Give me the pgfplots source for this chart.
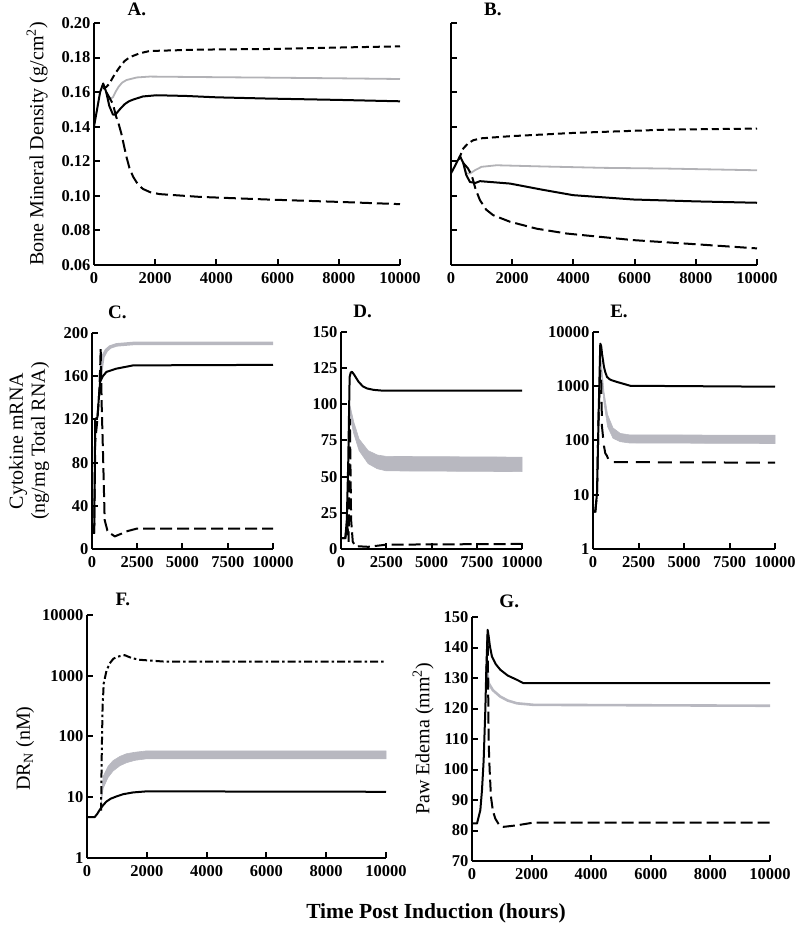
\documentclass[border=0pt]{standalone}
\usepackage{fontspec}
\setmainfont{Liberation Serif}
\usepackage{pgfplots}
\pgfplotsset{compat=1.18}
\definecolor{bandgray}{RGB}{184,184,192}
\definecolor{linegray}{RGB}{178,178,182}
\pgfplotsset{
  myax/.style={
    scale only axis,
    axis x line=bottom, axis y line=left,
    axis line style={-, line width=2pt},
    tick align=inside, major tick length=6pt,
    every tick/.style={black, line width=2pt},
    tick label style={font=\fontsize{16.5}{18}\selectfont\bfseries},
    xticklabel style={yshift=-4pt},
    xmin=0, xmax=10000,
    scaled x ticks=false, scaled y ticks=false,
    /pgf/number format/assume math mode=true,
    title style={font=\fontsize{19}{20}\selectfont\bfseries, anchor=center, inner sep=0pt},
    ylabel style={font=\fontsize{20}{22}\selectfont, anchor=center},
    clip=false,
  },
  tk2/.style={xtick={0,2000,4000,6000,8000,10000}, xticklabels={0,2000,4000,6000,8000,10000}},
  tk25/.style={xtick={0,2500,5000,7500,10000}, xticklabels={0,2500,5000,7500,10000}},
  blk/.style={black, line width=2pt, line join=round},
  sdash/.style={black, line width=2pt, dash pattern=on 7pt off 4pt},
  ldash/.style={black, line width=2pt, dash pattern=on 12pt off 5pt},
  ddot/.style={black, line width=2pt, dash pattern=on 8pt off 3pt on 2.5pt off 3pt},
  gline/.style={linegray, line width=1.8pt, line join=round},
}
\begin{document}
\begin{tikzpicture}
\useasboundingbox (0,0) rectangle (800pt,930pt);

% ---------- A ----------
\begin{axis}[myax, tk2, at={(94pt,665pt)}, anchor=south west, width=306pt, height=242pt,
  ymin=0.06, ymax=0.20, ytick={0.06,0.08,0.10,0.12,0.14,0.16,0.18,0.20},
  yticklabels={0.06,0.08,0.10,0.12,0.14,0.16,0.18,0.20},
  title={A.}, title style={at={(axis description cs:0.14,1)}, yshift=8pt},
  ylabel={Bone Mineral Density (g/cm\textsuperscript{2})},
  ylabel style={at={(axis description cs:-0.186,0.5)}}]
\addplot[gline] coordinates {(400,0.160)(500,0.156)(620,0.157)(700,0.160)(800,0.163)(920,0.1655)(1060,0.167)(1400,0.1685)(1820,0.169)(3000,0.1688)(5640,0.1684)(8000,0.168)(10000,0.1676)};
\addplot[blk] coordinates {(0,0.140)(100,0.150)(200,0.160)(300,0.165)(400,0.160)(500,0.152)(620,0.147)(700,0.147)(840,0.150)(1000,0.153)(1140,0.1547)(1280,0.1557)(1600,0.1575)(2040,0.1582)(3000,0.1578)(4000,0.157)(5640,0.1563)(8000,0.1555)(10000,0.1547)};
\addplot[sdash] coordinates {(300,0.162)(400,0.163)(510,0.165)(600,0.168)(700,0.171)(840,0.1745)(1000,0.178)(1150,0.180)(1280,0.181)(1500,0.1825)(1820,0.1838)(3460,0.1846)(5970,0.185)(8000,0.1858)(10000,0.1865)};
\addplot[ldash] coordinates {(400,0.160)(500,0.157)(620,0.153)(720,0.146)(800,0.142)(894,0.136)(980,0.129)(1060,0.1226)(1160,0.116)(1280,0.111)(1440,0.1065)(1600,0.104)(1850,0.102)(2150,0.101)(3460,0.0994)(5640,0.0979)(8000,0.0965)(10000,0.0952)};
\end{axis}

% ---------- B ----------
\begin{axis}[myax, tk2, at={(451pt,665pt)}, anchor=south west, width=306pt, height=242pt,
  ymin=0.06, ymax=0.20, ytick={0.06,0.08,0.10,0.12,0.14,0.16,0.18,0.20},
  yticklabels={}, 
  title={B.}, title style={at={(axis description cs:0.137,1)}, yshift=8pt}]
\addplot[gline] coordinates {(400,0.119)(500,0.113)(620,0.1129)(800,0.1150)(1000,0.1168)(1490,0.1177)(3000,0.1170)(5000,0.1162)(7000,0.1158)(10000,0.1148)};
\addplot[blk] coordinates {(0,0.113)(150,0.118)(294,0.123)(400,0.119)(500,0.112)(620,0.108)(800,0.1075)(947,0.1085)(1930,0.1071)(3000,0.1035)(3990,0.1004)(5950,0.0979)(8000,0.0968)(10000,0.096)};
\addplot[sdash] coordinates {(250,0.121)(400,0.1274)(550,0.1302)(730,0.1322)(1000,0.1333)(1930,0.1345)(3990,0.1364)(7040,0.1383)(10000,0.1389)};
\addplot[ldash] coordinates {(400,0.119)(550,0.116)(675,0.112)(800,0.104)(947,0.0975)(1150,0.092)(1380,0.0888)(1930,0.085)(2800,0.081)(3780,0.0782)(5950,0.0744)(8000,0.072)(10000,0.0696)};
\end{axis}

% ---------- C ----------
\begin{axis}[myax, tk25, at={(92pt,381pt)}, anchor=south west, width=181pt, height=216pt,
  ymin=0, ymax=200, ytick={0,40,80,120,160,200}, yticklabels={0,40,80,120,160,200},
  title={C.}, title style={at={(axis description cs:0.14,1)}, yshift=15pt},
  ylabel={Cytokine mRNA\\(ng/mg Total RNA)},
  ylabel style={at={(axis description cs:-0.348,0.5)}, align=center}]
\addplot[bandgray, line width=3.5pt] coordinates {(450,155)(480,164)(600,178)(795,184)(1000,187)(1350,189)(2270,190.3)(10000,190.3)};
\addplot[blk] coordinates {(0,15)(120,15)(180,120)(300,122)(380,140)(450,155)(600,160)(800,164)(1350,167)(2270,170)(10000,170.5)};
\addplot[ldash] coordinates {(0,15)(120,15)(180,100)(300,120)(420,150)(480,185.5)(540,130)(610,88)(700,27)(850,17)(980,14.8)(1260,11.7)(1600,14)(1900,16.3)(2460,18.8)(10000,18.8)};
\end{axis}

% ---------- D ----------
\begin{axis}[myax, tk25, at={(341pt,381pt)}, anchor=south west, width=181pt, height=217pt,
  ymin=0, ymax=150, ytick={0,25,50,75,100,125,150}, yticklabels={0,25,50,75,100,125,150},
  title={D.}, title style={at={(axis description cs:0.12,1)}, yshift=15pt}]
\addplot[fill=bandgray, draw=bandgray, line width=0.6pt] coordinates {(480,92)(520,98)(700,88)(1000,76)(1500,68)(2000,65)(2500,64)(10000,63.5)(10000,53.5)(2500,54)(2000,55.5)(1500,59)(1000,68)(700,80)(520,90)(480,88)};
\addplot[blk] coordinates {(0,7.6)(240,7.6)(320,20)(400,60)(477,119)(540,122)(605,122.5)(700,121)(800,119)(970,115.6)(1200,112.5)(1430,111)(1800,110)(2350,109.4)(10000,109.4)};
\addplot[ldash] coordinates {(0,7.6)(240,7.6)(330,17)(390,12)(420,5)(450,40)(490,90)(520,60)(560,20)(650,5)(800,2)(1500,1.5)(2500,3)(10000,3.5)};
\end{axis}

% ---------- E ----------
\begin{axis}[myax, tk25, at={(593pt,381pt)}, anchor=south west, width=182pt, height=217pt,
  ymode=log, ymin=1, ymax=10000, ytick={1,10,100,1000,10000}, yticklabels={1,10,100,1000,10000},
  yminorticks=false,
  title={E.}, title style={at={(axis description cs:0.143,1)}, yshift=15pt}]
\addplot[fill=bandgray, draw=bandgray, line width=0.6pt] coordinates {(450,3000)(600,800)(800,300)(1100,170)(1500,135)(2000,127)(10000,125)(10000,88)(2000,90)(1500,95)(1100,110)(800,180)(600,500)(450,2000)};
\addplot[blk] coordinates {(0,4.9)(128,4.9)(220,10.7)(310,316)(400,6100)(450,5500)(494,4000)(550,3000)(600,2300)(680,1800)(768,1490)(900,1350)(1000,1300)(1316,1200)(2050,1020)(10000,980)};
\addplot[black, line width=2pt, dash pattern=on 14pt off 8pt] coordinates {(0,4.9)(128,4.9)(220,10.7)(310,316)(400,2000)(457,1100)(494,180)(600,80)(676,58)(768,52)(900,40)(10000,39)};
\end{axis}

% ---------- F ----------
\begin{axis}[myax, tk2, at={(87pt,72pt)}, anchor=south west, width=299pt, height=243pt,
  ymode=log, ymin=1, ymax=10000, ytick={1,10,100,1000,10000}, yticklabels={1,10,100,1000,10000},
  yminorticks=false,
  title={F.}, title style={at={(axis description cs:0.12,1)}, yshift=10pt},
  ylabel={DR\textsubscript{N} (nM)},
  ylabel style={at={(axis description cs:-0.207,0.45)}}]
\addplot[fill=bandgray, draw=bandgray, line width=0.6pt] coordinates {(480,10)(540,22)(700,32)(870,40)(1100,47)(1320,52)(1600,55)(2000,58)(10000,58)(10000,43)(2000,43)(1600,40.5)(1320,37)(1100,33)(870,27)(700,21)(540,14)(480,8)};
\addplot[blk] coordinates {(0,4.72)(257,4.72)(340,5.3)(425,6.2)(520,7.2)(648,8.5)(800,9.5)(983,10.3)(1200,11.2)(1540,12.0)(1990,12.5)(10000,12.3)};
\addplot[ddot] coordinates {(470,6)(490,40)(520,300)(560,750)(650,1200)(760,1600)(880,1900)(1000,2050)(1260,2180)(1500,1950)(1765,1830)(2660,1700)(10000,1700)};
\end{axis}

% ---------- G ----------
\begin{axis}[myax, tk2, at={(472pt,69pt)}, anchor=south west, width=298pt, height=244pt,
  ymin=70, ymax=150, ytick={70,80,90,100,110,120,130,140,150}, yticklabels={70,80,90,100,110,120,130,140,150},
  title={G.}, title style={at={(axis description cs:0.125,1)}, yshift=10pt},
  ylabel={Paw Edema (mm\textsuperscript{2})},
  ylabel style={at={(axis description cs:-0.164,0.5)}}]
\addplot[bandgray, line width=2.6pt] coordinates {(480,133.8)(520,131)(560,128.3)(700,126)(950,123.9)(1200,122.6)(1508,121.7)(2067,121.2)(10000,120.9)};
\addplot[blk] coordinates {(0,82.3)(168,82.3)(280,86.7)(335,93.2)(391,103)(447,119.5)(480,132.7)(525,145.8)(560,143.6)(600,140.5)(670,137)(800,134.5)(950,132.7)(1200,130.8)(1508,129.4)(1730,128.3)(10000,128.3)};
\addplot[ldash] coordinates {(480,130)(525,144)(560,108.6)(592,99.8)(637,91)(700,86.5)(782,83.9)(900,82)(1061,81.2)(1508,81.7)(2067,82.6)(10000,82.6)};
\end{axis}

\node[font=\fontsize{21.5}{24}\selectfont\bfseries] at (436pt,17pt) {Time Post Induction (hours)};
\end{tikzpicture}
\end{document}
